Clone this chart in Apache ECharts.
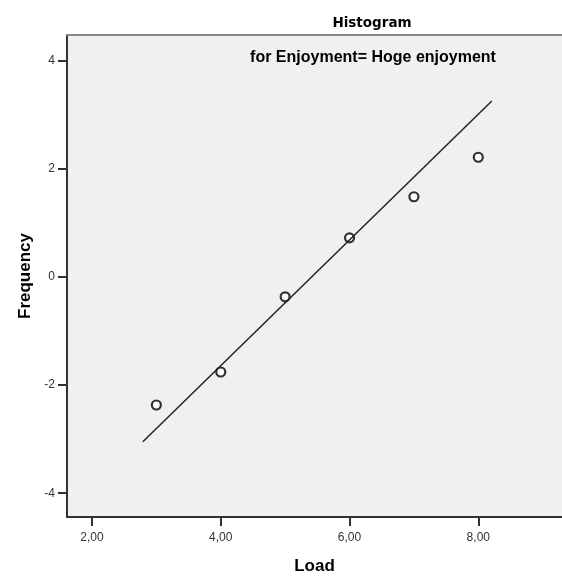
<!DOCTYPE html>
<html>
<head>
<meta charset="utf-8">
<script src="https://cdn.jsdelivr.net/npm/echarts@6/dist/echarts.min.js"></script>
<style>
  html, body { margin: 0; padding: 0; background: #fff; }
  #chart { width: 562px; height: 577px; }
</style>
</head>
<body>
<div id="chart"></div>
<script>
// Observed load values and their expected normal scores
const loadValues = [3, 4, 5, 6, 7, 8];
const expectedScores = [-2.37, -1.76, -0.37, 0.72, 1.48, 2.21];

// Reference line end points (x, y)
const refLineX = [2.79, 8.21];
const refLineY = [-3.05, 3.25];

// Tick labels
const xTicks = [2, 4, 6, 8];
const yTicks = [-4, -2, 0, 2, 4];

const chartTitle = 'Histogram';
const chartSubtitle = 'for Enjoyment= Hoge enjoyment';
const xName = 'Load';
const yName = 'Frequency';

const points = loadValues.map((x, i) => [x, expectedScores[i]]);
const linePts = refLineX.map((x, i) => [x, refLineY[i]]);

const FONT = '"Liberation Sans", Arial, sans-serif';
const TITLE_FONT = '"DejaVu Sans", sans-serif';

const chart = echarts.init(document.getElementById('chart'), null, { renderer: 'canvas' });

chart.setOption({
  animation: false,
  backgroundColor: '#ffffff',
  title: [
    {
      text: chartTitle,
      left: 367, top: 11, textAlign: 'center',
      textStyle: { fontFamily: TITLE_FONT, fontSize: 13.5, fontWeight: 'bold', color: '#000' }
    },
    {
      text: chartSubtitle,
      left: 368, top: 45, textAlign: 'center',
      textStyle: { fontFamily: FONT, fontSize: 16, fontWeight: 'bold', color: '#000' }
    }
  ],
  grid: {
    left: 67, right: 0, top: 35, bottom: 60,
    outerBoundsMode: 'none', containLabel: false,
    show: true, backgroundColor: '#f0f0f0', borderWidth: 0
  },
  xAxis: [
    {
      type: 'value', min: 1.612, max: 9.30, position: 'bottom',
      name: xName, nameLocation: 'middle', nameGap: 41,
      nameTextStyle: { fontFamily: FONT, fontSize: 17, fontWeight: 'bold', color: '#000' },
      axisLine: { show: true, onZero: false, lineStyle: { color: '#333', width: 2 } },
      axisTick: { show: true, length: 9, customValues: xTicks, lineStyle: { color: '#333', width: 2 } },
      axisLabel: {
        customValues: xTicks, margin: 15,
        fontFamily: FONT, fontSize: 12, color: '#333',
        formatter: v => v.toFixed(2).replace('.', ',')
      },
      splitLine: { show: false }
    },
    {
      type: 'value', min: 1.612, max: 9.30, position: 'top',
      axisLine: { show: true, onZero: false, lineStyle: { color: '#888', width: 2 } },
      axisTick: { show: false }, axisLabel: { show: false }, splitLine: { show: false }
    }
  ],
  yAxis: {
    type: 'value', min: -4.44, max: 4.47,
    name: yName, nameLocation: 'middle', nameGap: 33, nameRotate: 90,
    nameTextStyle: { fontFamily: FONT, fontSize: 17, fontWeight: 'bold', color: '#000' },
    axisLine: { show: true, onZero: false, lineStyle: { color: '#333', width: 2 } },
    axisTick: { show: true, length: 9, customValues: yTicks, lineStyle: { color: '#333', width: 2 } },
    axisLabel: {
      customValues: yTicks, margin: 12,
      fontFamily: FONT, fontSize: 12, color: '#333'
    },
    splitLine: { show: false }
  },
  series: [
    {
      type: 'line', data: linePts, xAxisIndex: 0,
      showSymbol: false, silent: true,
      lineStyle: { color: '#222', width: 1.5 }
    },
    {
      type: 'scatter', data: points, xAxisIndex: 0,
      symbol: 'circle', symbolSize: 9,
      itemStyle: { color: '#ffffff', borderColor: '#000', borderWidth: 2.2 }
    }
  ]
});
</script>
</body>
</html>
